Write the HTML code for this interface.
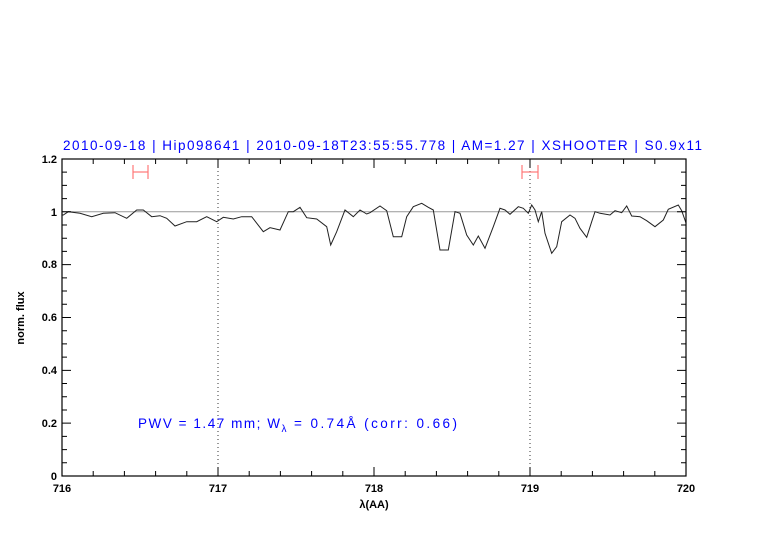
<!DOCTYPE html>
<html><head><meta charset="utf-8"><style>body{margin:0;background:#fff}svg{display:block}</style></head>
<body>
<svg width="782" height="542" xmlns="http://www.w3.org/2000/svg" font-family="Liberation Sans, sans-serif">
<text x="63" y="150" fill="#0000ff" font-size="13.5" textLength="639" lengthAdjust="spacing">2010-09-18 | Hip098641 | 2010-09-18T23:55:55.778 | AM=1.27 | XSHOOTER | S0.9x11</text>
<line x1="62" y1="211.8" x2="686" y2="211.8" stroke="#999" stroke-width="1"/>
<line x1="218" y1="159" x2="218" y2="476" stroke="#333" stroke-dasharray="1,3"/>
<line x1="530" y1="159" x2="530" y2="476" stroke="#333" stroke-dasharray="1,3"/>
<g stroke="#f77" stroke-width="1.2">
<line x1="133" y1="172" x2="148" y2="172"/><line x1="133" y1="165" x2="133" y2="179"/><line x1="148" y1="165" x2="148" y2="179"/>
<line x1="522" y1="172" x2="538" y2="172"/><line x1="522" y1="165" x2="522" y2="179"/><line x1="538" y1="165" x2="538" y2="179"/>
</g>
<polyline fill="none" stroke="#222" stroke-width="1" points="62,215 63.3,215 68.3,211.7 80,213.3 91.7,216.7 103.3,213.3 115,212.7 126.7,218.3 136.7,210 143.3,210 151.7,216.7 160,215.7 166.7,218.3 175,226 186.7,221.7 196.7,221.7 206.7,216.7 216.7,221.7 223.3,217.3 233.3,219 241.7,216.7 251.7,216.7 263.3,231.7 270,227.7 280,230 288.3,211.7 293.3,211.7 300,207.3 306.7,217.7 316.7,219 326.7,226.7 330.7,245 336.7,231.7 345,210 353.3,216.7 360,210 366.7,214 370,212.7 380,206 386.7,210.7 393.3,236.7 401.7,236.7 406.7,216.7 413.3,206.7 421.7,203.3 428.3,207.3 433.3,210 440,250 448.3,250 455,211.7 460,213.3 466.7,235 473.3,245 478.3,236 485,248.3 493.3,226.7 500,208.3 505,210 510,214.3 518.3,206.7 523.3,208.3 528.3,213.3 531.7,205 535,210 538.3,221.7 541.7,211.7 545,233.3 551.7,253.3 556.7,246.7 561.7,221.7 570,215 575,218.3 580,228.3 586.7,237.3 591.7,221.7 595,211.7 600,213.3 610,215 615,210.7 621.7,212.7 626.7,206 631.7,216 640,216.7 646.7,220.7 655,226.7 663.3,220 668.3,209.3 678.3,205 681.7,210.7 686,223"/>
<rect x="62" y="159" width="624" height="317" fill="none" stroke="#000" stroke-width="1.2"/>
<path stroke="#000" stroke-width="1" fill="none" d="
M62 476v-9M93.2 476v-5M124.4 476v-5M155.6 476v-5M186.8 476v-5M218 476v-9M249.2 476v-5M280.4 476v-5M311.6 476v-5M342.8 476v-5M374 476v-9M405.2 476v-5M436.4 476v-5M467.6 476v-5M498.8 476v-5M530 476v-9M561.2 476v-5M592.4 476v-5M623.6 476v-5M654.8 476v-5M686 476v-9
M62 159v9M93.2 159v5M124.4 159v5M155.6 159v5M186.8 159v5M218 159v9M249.2 159v5M280.4 159v5M311.6 159v5M342.8 159v5M374 159v9M405.2 159v5M436.4 159v5M467.6 159v5M498.8 159v5M530 159v9M561.2 159v5M592.4 159v5M623.6 159v5M654.8 159v5M686 159v9
M62 462.79h5M62 449.58h5M62 436.37h5M62 423.16h9M62 409.95h5M62 396.74h5M62 383.53h5M62 370.32h9M62 357.11h5M62 343.9h5M62 330.69h5M62 317.48h9M62 304.27h5M62 291.06h5M62 277.85h5M62 264.64h9M62 251.43h5M62 238.22h5M62 225.01h5M62 211.8h9M62 198.59h5M62 185.38h5M62 172.17h5
M686 462.79h-5M686 449.58h-5M686 436.37h-5M686 423.16h-9M686 409.95h-5M686 396.74h-5M686 383.53h-5M686 370.32h-9M686 357.11h-5M686 343.9h-5M686 330.69h-5M686 317.48h-9M686 304.27h-5M686 291.06h-5M686 277.85h-5M686 264.64h-9M686 251.43h-5M686 238.22h-5M686 225.01h-5M686 211.8h-9M686 198.59h-5M686 185.38h-5M686 172.17h-5"/>
<g font-size="11" font-weight="bold" fill="#000">
<text x="62" y="492" text-anchor="middle">716</text>
<text x="218" y="492" text-anchor="middle">717</text>
<text x="374" y="492" text-anchor="middle">718</text>
<text x="530" y="492" text-anchor="middle">719</text>
<text x="686" y="492" text-anchor="middle">720</text>
<text x="57" y="480" text-anchor="end">0</text>
<text x="57" y="427" text-anchor="end">0.2</text>
<text x="57" y="374" text-anchor="end">0.4</text>
<text x="57" y="321" text-anchor="end">0.6</text>
<text x="57" y="268" text-anchor="end">0.8</text>
<text x="57" y="216" text-anchor="end">1</text>
<text x="57" y="163" text-anchor="end">1.2</text>
<text x="374" y="508" text-anchor="middle">λ(AA)</text>
<text transform="translate(24,318) rotate(-90)" text-anchor="middle">norm. flux</text>
</g>
<text x="138" y="428" fill="#0000ff" font-size="13.5"><tspan textLength="142" lengthAdjust="spacing">PWV = 1.47 mm; W</tspan><tspan font-size="10" dy="4">λ</tspan><tspan dy="-4" x="294" textLength="163" lengthAdjust="spacing">= 0.74Å (corr: 0.66)</tspan></text>
</svg>
</body></html>
